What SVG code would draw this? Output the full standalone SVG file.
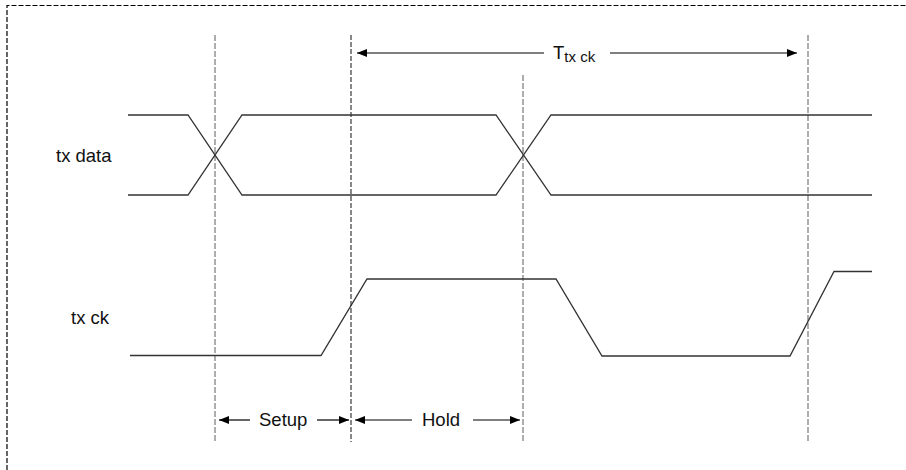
<svg xmlns="http://www.w3.org/2000/svg" width="906" height="470" viewBox="0 0 906 470">
<defs>
<style>
.frame{fill:none;stroke:#000;stroke-width:1.2;stroke-dasharray:5,2}
.vg{fill:none;stroke:#777;stroke-width:1.2;stroke-dasharray:6,2}
.vb{fill:none;stroke:#111;stroke-width:1;stroke-dasharray:5,2}
.sig{fill:none;stroke:#333;stroke-width:1.3;stroke-linejoin:miter}
.arr{fill:none;stroke:#000;stroke-width:1.2}
.lbl{font-family:"Liberation Sans",Arial,sans-serif;font-size:18.5px;fill:#111}
</style>
<marker id="ah" viewBox="0 0 10 8" refX="10" refY="4" markerWidth="10" markerHeight="8" markerUnits="userSpaceOnUse" orient="auto-start-reverse">
<path d="M0,0 L10,4 L0,8 Z" fill="#000"/>
</marker>
</defs>
<rect width="906" height="470" fill="#fff"/>
<g id="frame">
<path class="frame" d="M7,470 V5.5 H906"/>
</g>
<g id="guides">
<line class="vg" x1="215" y1="35" x2="215" y2="442"/>
<line class="vb" x1="351" y1="35" x2="351" y2="442"/>
<line class="vg" x1="523" y1="75" x2="523" y2="442"/>
<line class="vg" x1="808" y1="35" x2="808" y2="442"/>
</g>
<g id="tx-data">
<text class="lbl" x="56" y="162">tx data</text>
<path class="sig" d="M128,115 H188 L242,195 H496 L551,115 H872"/>
<path class="sig" d="M128,195 H188 L242,115 H496 L551,195 H872"/>
</g>
<g id="tx-ck">
<text class="lbl" x="71" y="324">tx ck</text>
<path class="sig" d="M130,355.5 H321 L367,279 H556 L602,356 H790 L834,271.5 H872"/>
</g>
<g id="connectors">
<line class="arr" x1="544" y1="53" x2="357" y2="53" marker-end="url(#ah)"/>
<line class="arr" x1="610" y1="53" x2="797" y2="53" marker-end="url(#ah)"/>
<line class="arr" x1="250" y1="420" x2="219" y2="420" marker-end="url(#ah)"/>
<line class="arr" x1="317" y1="420" x2="349" y2="420" marker-end="url(#ah)"/>
<line class="arr" x1="412" y1="420" x2="355" y2="420" marker-end="url(#ah)"/>
<line class="arr" x1="473" y1="420" x2="520" y2="420" marker-end="url(#ah)"/>
</g>
<g id="labels">
<text class="lbl" x="553" y="59">T<tspan font-size="15" dy="3">tx ck</tspan></text>
<text class="lbl" x="259" y="426">Setup</text>
<text class="lbl" x="422" y="426">Hold</text>
</g>
</svg>
